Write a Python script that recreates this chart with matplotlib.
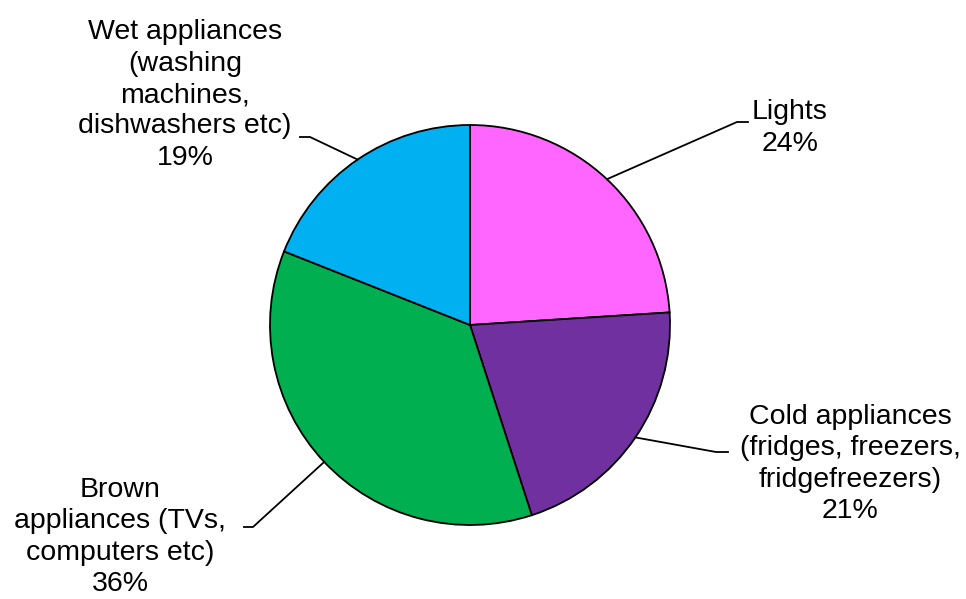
import numpy as np
import matplotlib.pyplot as plt

plt.rcParams['font.family'] = ['Liberation Sans', 'DejaVu Sans']

# data
categories = ['Lights', 'Cold appliances\n(fridges, freezers,\nfridgefreezers)',
              'Brown\nappliances (TVs,\ncomputers etc)',
              'Wet appliances\n(washing\nmachines,\ndishwashers etc)']
values = [24, 21, 36, 19]
colors = ['#FF66FF', '#7030A0', '#00B050', '#00B0F0']

# label layout (pixels, y from top): text centre, elbow x, elbow y, end of tick
lab_pos = [(790, 128), (850, 464), (120, 537), (185, 95)]
elbows = [(737, 122, 748), (716, 452, 728), (253, 527, 244), (310, 137, 300)]

W, H = 966, 599
fig = plt.figure(figsize=(W / 100, H / 100), dpi=100)
ax = fig.add_axes([0, 0, 1, 1])

cx, cy, r = 470, H - 325, 200
wedges, _ = ax.pie(values, colors=colors, startangle=90, counterclock=False,
                   center=(cx, cy), radius=r, frame=True,
                   wedgeprops=dict(edgecolor='black', linewidth=1.3))
ax.set_xlim(0, W)
ax.set_ylim(0, H)
ax.set_aspect('equal')
ax.axis('off')

for i, w in enumerate(wedges):
    ang = np.radians((w.theta1 + w.theta2) / 2)
    px = cx + r * np.cos(ang)
    py = cy + r * np.sin(ang)
    ex, ey, tx = elbows[i]
    ax.plot([px, ex, tx], [py, H - ey, H - ey], color='black', lw=1.3)
    pct = '%d%%' % values[i]
    ax.text(lab_pos[i][0], H - lab_pos[i][1], categories[i] + '\n' + pct,
            ha='center', va='center', multialignment='center',
            fontsize=20.5, linespacing=1.27)

fig.savefig('out.png', dpi=100)
